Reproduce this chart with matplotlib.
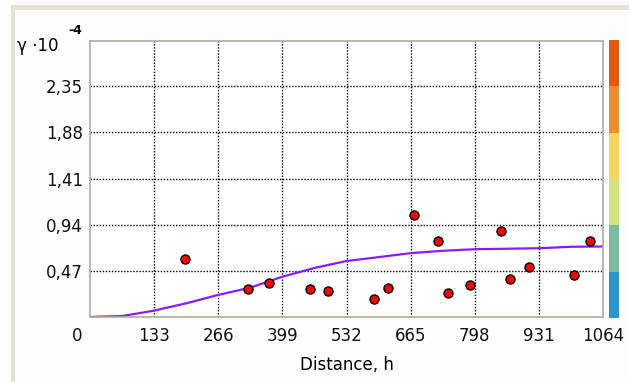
import matplotlib
matplotlib.use("Agg")
import matplotlib.pyplot as plt
import matplotlib.transforms as mtransforms
from matplotlib.patches import Rectangle

# experimental points (distance, gamma * 1e4)
lag_h = [198, 327, 372, 456, 493, 589, 618, 672, 721, 742, 788, 853, 871, 911, 1003, 1036]
gamma = [0.59, 0.283, 0.344, 0.283, 0.266, 0.181, 0.30, 1.042, 0.776, 0.242, 0.324, 0.876, 0.388, 0.508, 0.426, 0.773]

# model curve
model_h = [0, 67, 133, 200, 266, 333, 399, 466, 532, 599, 665, 732, 798, 865, 931, 998, 1064]
model_g = [0.0, 0.01, 0.065, 0.14, 0.225, 0.30, 0.41, 0.50, 0.57, 0.61, 0.65, 0.674, 0.69, 0.695, 0.70, 0.715, 0.718]

x_ticks = [0, 133, 266, 399, 532, 665, 798, 931, 1064]
y_ticks = [0.47, 0.94, 1.41, 1.88, 2.35]
y_labels = ["0,47", "0,94", "1,41", "1,88", "2,35"]

scale_colors = ["#2b95c9", "#7dbba0", "#d2e27c", "#f4d65a", "#eb8d2e", "#e5580e"]

W, H = 629, 382
fig = plt.figure(figsize=(W / 100, H / 100), dpi=100)
fig.patch.set_facecolor("#fdfdfd")

# window frame
fig.add_artist(Rectangle((11 / W, 0), 4 / W, 1 - 5 / H, transform=fig.transFigure,
                         facecolor="#e6e2d2", edgecolor="none"))
fig.add_artist(Rectangle((11 / W, 1 - 10 / H), 1, 5 / H, transform=fig.transFigure,
                         facecolor="#e6e2d2", edgecolor="none"))

ax = fig.add_axes([90 / W, 65 / H, 513 / W, 276 / H])
ax.set_facecolor("white")
ax.plot(model_h, model_g, color="#8a1cf5", lw=1.6, zorder=2)
ax.plot(lag_h, gamma, "o", ms=6.5, mfc="#ff0000", mec="black", mew=1.0, zorder=3)

ax.set_xlim(0, 1064)
ax.set_ylim(0, 2.81)
ax.set_xticks(x_ticks)
ax.set_xticklabels([str(v) for v in x_ticks])
ax.set_yticks(y_ticks)
ax.set_yticklabels(y_labels)
ax.tick_params(length=0, labelsize=12, colors="#111111")
ax.tick_params(axis="y", pad=5)
ax.tick_params(axis="x", pad=7)

dots = (0, (1, 1.2))
for v in x_ticks[1:-1]:
    ax.axvline(v, color="black", lw=1.0, ls=dots, zorder=1)
for v in y_ticks:
    ax.axhline(v, color="black", lw=1.0, ls=dots, zorder=1)

for s in ax.spines.values():
    s.set_color("#b0ac9c")
    s.set_linewidth(1.2)

# shift the "0" label left like the original
lbl0 = ax.get_xticklabels()[0]
lbl0.set_transform(lbl0.get_transform() + mtransforms.ScaledTranslation(-13 / 100, 0, fig.dpi_scale_trans))

ax.set_xlabel("Distance, h", fontsize=12, labelpad=8)

fig.text(17 / W, 1 - 46 / H, "\u03b3 \u00b710", fontsize=12, va="center", ha="left")
fig.text(68 / W, 1 - 31 / H, "-4", fontsize=9, fontweight="bold", va="center", ha="left")

# color scale
cax = fig.add_axes([609 / W, 64 / H, 10 / W, 278 / H])
cax.bar([0] * len(scale_colors), [1] * len(scale_colors), bottom=range(len(scale_colors)),
        width=1, color=scale_colors)
cax.set_xlim(-0.5, 0.5)
cax.set_ylim(0, len(scale_colors))
cax.axis("off")

fig.savefig("out.png", dpi=100)
